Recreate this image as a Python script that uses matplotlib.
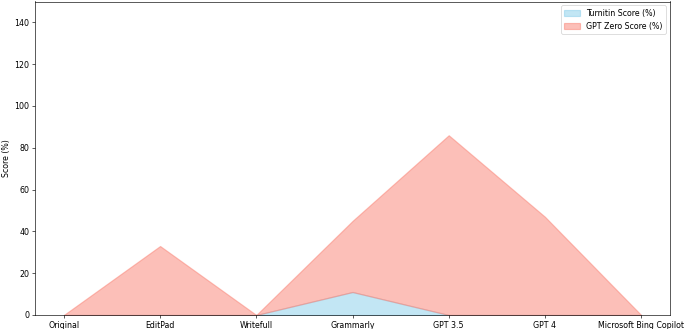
import matplotlib
matplotlib.use("Agg")
import matplotlib.pyplot as plt
import numpy as np

categories = ["Original", "EditPad", "Writefull", "Grammarly", "GPT 3.5", "GPT 4", "Microsoft Bing Copilot"]
turnitin = [0, 0, 0, 11, 0, 0, 0]
gptzero = [0, 33, 0, 34, 86, 47, 0]

W, H = 685, 329
dpi = W / 12.0
fig = plt.figure(figsize=(12, H / dpi), dpi=dpi)
ax = fig.add_axes([35/W, 14/H, 635/W, 313.5/H])
x = np.arange(len(categories))
colors = ["skyblue", "salmon"]
polys = ax.stackplot(x, turnitin, gptzero, labels=["Turnitin Score (%)", "GPT Zero Score (%)"],
                     colors=colors, alpha=0.5)
for p, c in zip(polys, colors):
    p.set_edgecolor(c)
    p.set_linewidth(1.5)
ax.set_xticks(x)
ax.set_xticklabels(categories)
ax.set_ylim(0, 150)
ax.set_yticks(range(0, 141, 20))
ax.set_ylabel("Score (%)")
ax.legend(loc="upper right")
fig.savefig("out.png", dpi=dpi)
